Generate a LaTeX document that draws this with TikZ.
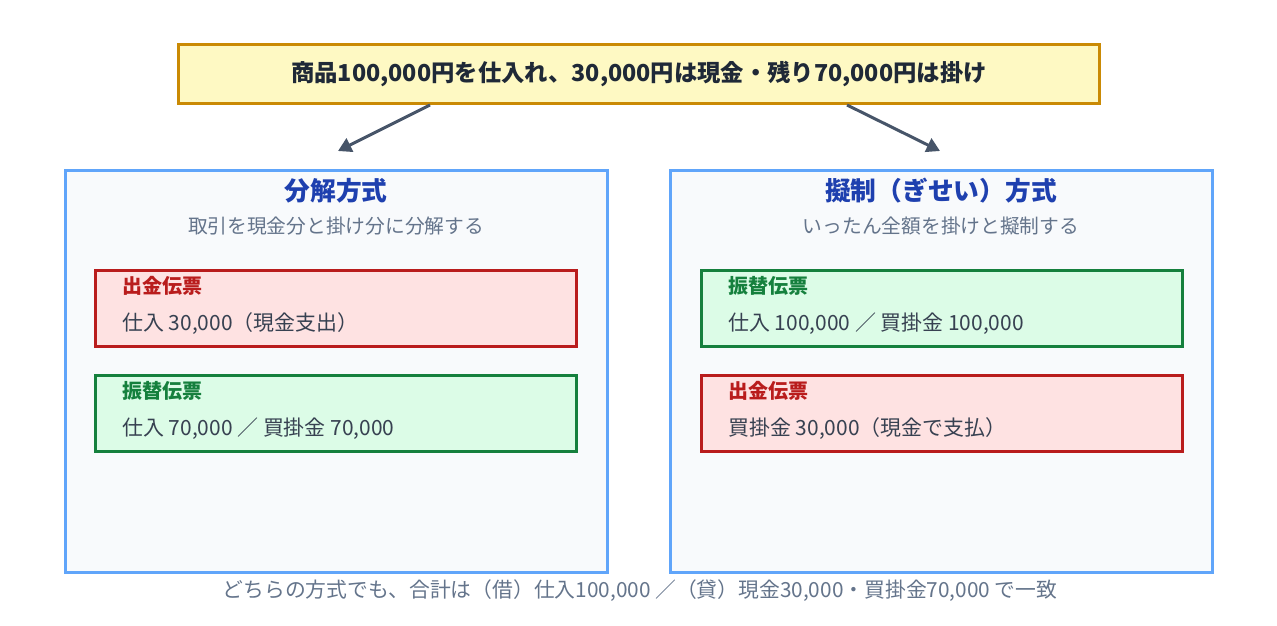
\documentclass[tikz,border=0pt]{standalone}
\usepackage{fontspec}
\setmainfont{Noto Sans CJK JP}
\usetikzlibrary{calc, positioning, arrows.meta}

\definecolor{goldline}{HTML}{CA8A04}
\definecolor{goldfill}{HTML}{FEF9C3}
\definecolor{slate}{HTML}{475569}
\definecolor{panelline}{HTML}{60A5FA}
\definecolor{panelfill}{HTML}{F8FAFC}
\definecolor{titleblue}{HTML}{1E40AF}
\definecolor{subgrey}{HTML}{64748B}
\definecolor{redline}{HTML}{B91C1C}
\definecolor{redfill}{HTML}{FEE2E2}
\definecolor{greenline}{HTML}{15803D}
\definecolor{greenfill}{HTML}{DCFCE7}
\definecolor{bodytext}{HTML}{374151}
\definecolor{toptext}{HTML}{1F2937}

\tikzset{
	topbox/.style={draw=goldline, fill=goldfill, line width=2.25pt, inner sep=0pt,
		minimum width=690.75pt, minimum height=44.25pt, text=toptext,
		font=\bfseries\fontsize{17.5pt}{20pt}\selectfont},
	panel/.style={draw=panelline, fill=panelfill, line width=2.25pt, inner sep=0pt,
		minimum width=406.5pt, minimum height=301.5pt},
	voucher/.style={line width=2.25pt, inner sep=0pt,
		minimum width=360.75pt, minimum height=57pt},
	cashbox/.style={voucher, draw=redline, fill=redfill},
	transbox/.style={voucher, draw=greenline, fill=greenfill},
	ptitle/.style={text=titleblue, font=\bfseries\fontsize{19.3pt}{22pt}\selectfont},
	psub/.style={text=subgrey, font=\fontsize{14.8pt}{17pt}\selectfont},
	vtitle/.style={anchor=west, inner sep=0pt, font=\bfseries\fontsize{15pt}{18pt}\selectfont},
	vbody/.style={anchor=west, inner sep=0pt, text=bodytext, font=\fontsize{15.7pt}{18pt}\selectfont},
	flow/.style={draw=slate, line width=2.25pt, -{Triangle[length=10pt, width=11pt]}}
}

\begin{document}
\begin{tikzpicture}[x=0.75pt, y=-0.75pt]
	\useasboundingbox (0,0) rectangle (1277,625);

		% nodes - top transaction %
		\node[topbox] (deal) at (639,74) {商品100,000円を仕入れ、30,000円は現金・残り70,000円は掛け};

		% nodes - left panel %
		\node[panel] (split) at (336.5,371.5) {};
		\node[ptitle] (splitT) at (336,191) {分解方式};
		\node[psub, below=3pt of splitT] (splitS) {取引を現金分と掛け分に分解する};
		\node[cashbox] (lcash) at (336,308.5) {};
		\node[vtitle, text=redline] (lcashT) at (122,286) {出金伝票};
		\node[vbody] (lcashB) at (122,324) {仕入 30,000（現金支出）};
		\node[transbox] (ltrans) at (336,413.5) {};
		\node[vtitle, text=greenline] (ltransT) at (122,391) {振替伝票};
		\node[vbody] (ltransB) at (122,429) {仕入 70,000 ／ 買掛金 70,000};

		% nodes - right panel %
		\node[panel] (gisei) at (941.5,371.5) {};
		\node[ptitle] (giseiT) at (941,191) {擬制（ぎせい）方式};
		\node[psub, below=3pt of giseiT] (giseiS) {いったん全額を掛けと擬制する};
		\node[transbox] (rtrans) at (942,308.5) {};
		\node[vtitle, text=greenline] (rtransT) at (728,286) {振替伝票};
		\node[vbody] (rtransB) at (728,324) {仕入 100,000 ／ 買掛金 100,000};
		\node[cashbox] (rcash) at (942,413.5) {};
		\node[vtitle, text=redline] (rcashT) at (728,391) {出金伝票};
		\node[vbody] (rcashB) at (728,429) {買掛金 30,000（現金で支払）};

		% note %
		\node[psub, font=\fontsize{15.6pt}{18pt}\selectfont] (note) at (640,591) {どちらの方式でも、合計は（借）仕入100,000 ／（貸）現金30,000・買掛金70,000 で一致};

		% edges %
		\coordinate (lend) at (338,151);
		\coordinate (rend) at (940,151);
		\draw[flow] ([xshift=-156.75pt]deal.south) -- (lend);
		\draw[flow] ([xshift=156pt]deal.south) -- (rend);

		\end{tikzpicture}
\end{document}
